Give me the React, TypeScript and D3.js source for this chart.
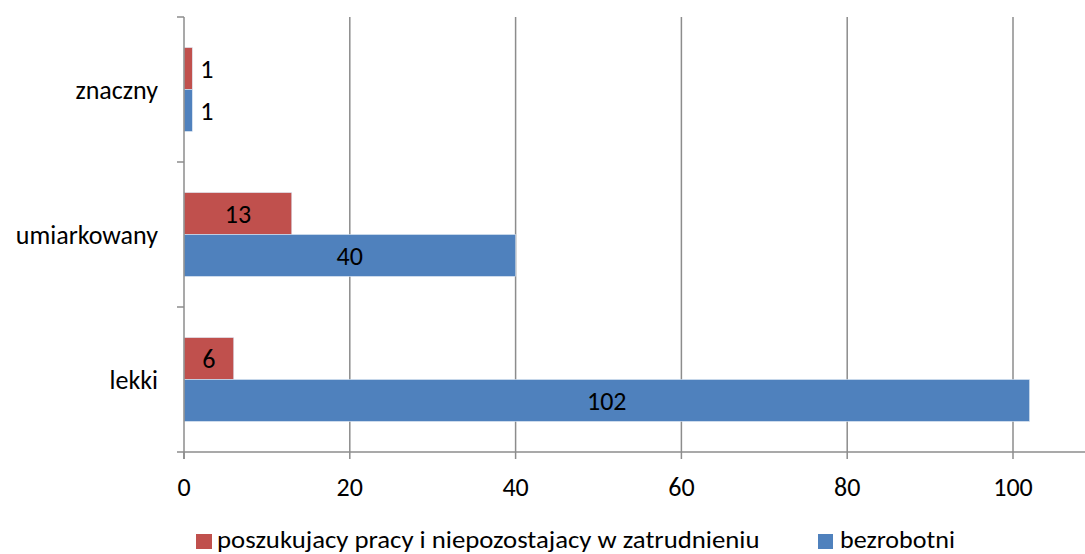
import { useRef, useLayoutEffect } from "react";
import * as d3 from "d3";

// categories listed top to bottom
const categories = ["znaczny", "umiarkowany", "lekki"];
const seriesNames = ["poszukujacy pracy i niepozostajacy w zatrudnieniu", "bezrobotni"];
const poszukujacy = [1, 13, 6];
const bezrobotni = [1, 40, 102];
const xTicks = [0, 20, 40, 60, 80, 100];

const colors = ["#C0504D", "#4F81BD"];
const font = "Carlito, Calibri, 'Open Sans', sans-serif";
const fs = 26;

const App = () => {
  const width = 1085;
  const height = 554;
  const left = 184;
  const top = 17;
  const bottom = 452;
  const legendRef = useRef<SVGGElement>(null);

  // fit each legend label to the width it takes in the original
  useLayoutEffect(() => {
    if (!legendRef.current) return;
    d3.select(legendRef.current)
      .selectAll<SVGTextElement, unknown>("text")
      .each(function () {
        const target = +(this.getAttribute("data-w") || 0);
        const natural = this.getComputedTextLength();
        const tx = this.getAttribute("data-x");
        const s = natural > 0 ? target / natural : 1;
        this.setAttribute("transform", `translate(${tx},548) scale(${s},1)`);
      });
  }, []);

  // 100 sits at x=1013; plot runs off the right edge like the original
  const x = d3.scaleLinear().domain([0, 100]).range([left, 1013]);
  const y = d3.scaleBand().domain(categories).range([top, bottom]);
  const inner = d3
    .scaleBand()
    .domain(seriesNames)
    .range([0, y.bandwidth()])
    .paddingOuter(0.73)
    .paddingInner(0);

  const values = [poszukujacy, bezrobotni];
  const bandEdges = [top, ...categories.map((c) => (y(c) as number) + y.bandwidth())];

  return (
    <svg width={width} height={height} style={{ position: "absolute", left: 0, top: 0, background: "#fff" }}>
      {/* gridlines */}
      {xTicks.slice(1).map((t) => (
        <line key={t} x1={x(t)} x2={x(t)} y1={top} y2={bottom} stroke="#8c8c8c" strokeWidth={1.5} />
      ))}
      {/* bars */}
      {categories.map((c, i) =>
        seriesNames.map((s, j) => {
          const v = values[j][i];
          const by = (y(c) as number) + (inner(s) as number);
          const bw = x(v) - x(0);
          const small = bw < 30;
          return (
            <g key={c + s}>
              <rect x={x(0)} y={by} width={bw} height={inner.bandwidth()} fill={colors[j]} stroke="#dce6f2" strokeWidth={0.6} />
              <text
                x={small ? x(v) + 8 : x(0) + bw / 2}
                y={by + inner.bandwidth() / 2}
                dy="0.35em"
                textAnchor={small ? "start" : "middle"}
                fontFamily={font}
                fontSize={fs}
                fill="#000"
              >
                {v}
              </text>
            </g>
          );
        })
      )}
      {/* y axis */}
      <line x1={left} x2={left} y1={top} y2={bottom + 7} stroke="#8c8c8c" strokeWidth={1.5} />
      {bandEdges.map((e, i) => (
        <line key={i} x1={left - 7} x2={left} y1={e} y2={e} stroke="#8c8c8c" strokeWidth={1.5} />
      ))}
      {categories.map((c) => (
        <text
          key={c}
          x={158}
          y={(y(c) as number) + y.bandwidth() / 2}
          dy="0.35em"
          textAnchor="end"
          fontFamily={font}
          fontSize={fs}
          fill="#000"
        >
          {c}
        </text>
      ))}
      {/* x axis */}
      <line x1={left} x2={width} y1={bottom} y2={bottom} stroke="#8c8c8c" strokeWidth={1.5} />
      {xTicks.map((t) => (
        <g key={t}>
          <line x1={x(t)} x2={x(t)} y1={bottom} y2={bottom + 7} stroke="#8c8c8c" strokeWidth={1.5} />
          <text x={x(t)} y={487} dy="0.35em" textAnchor="middle" fontFamily={font} fontSize={fs} fill="#000">
            {t}
          </text>
        </g>
      ))}
      {/* legend */}
      <g ref={legendRef}>
        <rect x={196} y={534} width={16} height={15} fill={colors[0]} />
        <text data-x={217} data-w={543} transform="translate(217,548)" fontFamily={font} fontSize={24} fill="#000">
          {seriesNames[0]}
        </text>
        <rect x={818} y={534} width={15} height={15} fill={colors[1]} />
        <text data-x={840} data-w={115} transform="translate(840,548)" fontFamily={font} fontSize={24} fill="#000">
          {seriesNames[1]}
        </text>
      </g>
    </svg>
  );
};

export default App;
